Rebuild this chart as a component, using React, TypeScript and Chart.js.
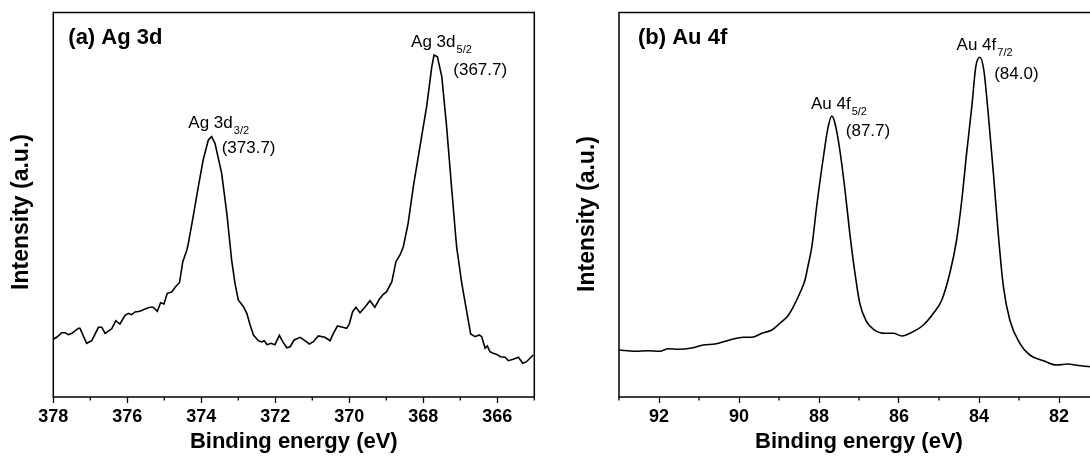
import React, { useEffect, useRef } from "react";
import { Chart, registerables } from "chart.js";

Chart.register(...registerables);

const FONT = '"Liberation Sans", Arial, Helvetica, sans-serif';

// ---- Data (binding energy in eV, intensity in arbitrary units) ----
const agSpectrum: [number, number][] = [
  [378.0, 57.7], [377.91, 59.7], [377.77, 64.3], [377.68, 64.3], [377.59, 62.3], [377.5, 63.7],
  [377.32, 68.7], [377.28, 68.7], [377.1, 53.7], [376.96, 56.3], [376.78, 69.7], [376.69, 69.7],
  [376.6, 63.7], [376.42, 68.3], [376.31, 76.3], [376.2, 73.0], [376.06, 81.7], [375.97, 83.7],
  [375.88, 82.3], [375.79, 85.0], [375.66, 85.7], [375.52, 88.0], [375.39, 89.7], [375.3, 89.7],
  [375.19, 85.7], [375.1, 94.3], [375.01, 93.0], [374.92, 103.7], [374.8, 105.0], [374.68, 111.0],
  [374.59, 114.3], [374.5, 135.3], [374.39, 147.0], [374.35, 153.7], [374.22, 180.3], [374.08, 210.3],
  [373.95, 237.0], [373.81, 257.0], [373.72, 260.3], [373.63, 253.7], [373.45, 223.7], [373.31, 183.7],
  [373.18, 137.0], [373.09, 113.7], [373.0, 97.0], [372.86, 90.3], [372.77, 83.7], [372.68, 72.0],
  [372.59, 62.0], [372.46, 56.3], [372.37, 55.0], [372.3, 56.3], [372.22, 52.3], [372.12, 53.7],
  [372.01, 52.3], [371.89, 61.7], [371.8, 55.3], [371.69, 49.3], [371.6, 50.3], [371.49, 57.0],
  [371.33, 59.7], [371.2, 56.3], [371.08, 53.0], [370.97, 55.3], [370.84, 61.0], [370.66, 59.7],
  [370.52, 56.3], [370.43, 63.7], [370.32, 71.0], [370.18, 69.7], [370.07, 68.7], [370.0, 73.0],
  [369.91, 85.3], [369.82, 89.7], [369.71, 84.3], [369.58, 89.7], [369.44, 96.3], [369.31, 89.7],
  [369.19, 97.7], [369.08, 102.7], [368.99, 105.3], [368.85, 115.3], [368.74, 135.3], [368.63, 142.0],
  [368.54, 150.3], [368.41, 173.7], [368.27, 210.3], [368.09, 250.3], [367.91, 290.3], [367.77, 330.3],
  [367.71, 342.0], [367.62, 340.3], [367.5, 320.3], [367.37, 270.3], [367.23, 207.0], [367.1, 150.3],
  [366.96, 113.7], [366.85, 90.3], [366.72, 63.0], [366.6, 60.3], [366.49, 62.0], [366.42, 60.3],
  [366.33, 48.7], [366.27, 51.0], [366.2, 45.3], [366.11, 43.7], [366.0, 42.3], [365.91, 40.3],
  [365.79, 39.7], [365.7, 36.3], [365.57, 37.7], [365.43, 39.7], [365.31, 33.7], [365.21, 35.3],
  [365.03, 42.0],
];

const auSpectrum: [number, number][] = [
  [93.0, 47.0], [92.6, 45.7], [92.27, 46.3], [91.98, 45.7], [91.77, 48.3], [91.52, 47.7],
  [91.18, 49.0], [90.89, 52.0], [90.6, 53.0], [90.23, 57.0], [89.89, 59.7], [89.68, 59.7],
  [89.43, 63.7], [89.18, 67.0], [88.98, 73.7], [88.78, 81.0], [88.64, 90.3], [88.48, 103.7],
  [88.35, 117.0], [88.27, 132.0], [88.18, 150.0], [88.06, 190.0], [87.89, 240.0], [87.77, 270.3],
  [87.68, 281.0], [87.6, 273.7], [87.48, 247.0], [87.35, 207.0], [87.23, 163.7], [87.1, 123.7],
  [86.98, 93.7], [86.81, 75.3], [86.64, 67.7], [86.35, 63.7], [86.14, 63.7], [85.93, 61.0],
  [85.73, 63.7], [85.39, 72.0], [85.14, 83.7], [84.93, 97.0], [84.73, 123.7], [84.56, 157.0],
  [84.43, 197.0], [84.31, 243.7], [84.18, 290.3], [84.08, 330.3], [83.98, 339.7], [83.88, 327.0],
  [83.77, 283.7], [83.64, 223.7], [83.52, 163.7], [83.39, 110.3], [83.23, 77.0], [82.98, 53.7],
  [82.73, 42.0], [82.39, 36.3], [82.06, 32.0], [81.77, 33.0], [81.56, 31.7], [81.23, 30.3],
  [81.0, 29.5],
];

const agRange = [365, 378];
const auRange = [81, 93];
const intensityRange = [0, 384.5];

const xTitle = "Binding energy (eV)";
const yTitle = "Intensity (a.u.)";
const agPanelTitle = "(a) Ag 3d";
const auPanelTitle = "(b) Au 4f";

type PeakLabel = { main: string; sub: string; value: string; mainAt: [number, number]; valueAt: [number, number] };

const agPeakLabels: PeakLabel[] = [
  { main: "Ag 3d", sub: "3/2", value: "(373.7)", mainAt: [374.35, 269.3], valueAt: [373.45, 243.7] },
  { main: "Ag 3d", sub: "5/2", value: "(367.7)", mainAt: [368.33, 350], valueAt: [367.19, 321.7] },
];
const auPeakLabels: PeakLabel[] = [
  { main: "Au 4f", sub: "5/2", value: "(87.7)", mainAt: [88.2, 288], valueAt: [87.33, 261] },
  { main: "Au 4f", sub: "7/2", value: "(84.0)", mainAt: [84.56, 347], valueAt: [83.62, 318] },
];

type PanelCfg = {
  points: [number, number][];
  range: number[];
  smooth: boolean;
  padRight: number;
  yAxisWidth: number;
  yTitleX: number;
  yTitleY: number;
  title: string;
  titleDx: number;
  titleDy: number;
  labels: PeakLabel[];
};

function annotatePlugin(cfg: PanelCfg) {
  return {
    id: "annotate",
    afterDraw(chart: any) {
      const { ctx, chartArea: a, scales } = chart;
      const xs = scales.x;
      const ys = scales.y;
      ctx.save();
      // frame
      ctx.strokeStyle = "#000";
      ctx.lineWidth = 1.5;
      ctx.strokeRect(a.left, a.top, a.right - a.left, a.bottom - a.top);
      // minor ticks
      ctx.lineWidth = 1.3;
      for (let v = Math.ceil(cfg.range[0]); v <= cfg.range[1]; v++) {
        if (v % 2 !== 0) {
          const px = xs.getPixelForValue(v);
          ctx.beginPath();
          ctx.moveTo(px, a.bottom);
          ctx.lineTo(px, a.bottom + 3.5);
          ctx.stroke();
        }
      }
      ctx.fillStyle = "#000";
      // y axis title
      ctx.save();
      ctx.translate(cfg.yTitleX, cfg.yTitleY);
      ctx.rotate(-Math.PI / 2);
      ctx.textAlign = "center";
      ctx.textBaseline = "middle";
      ctx.font = `bold 23px ${FONT}`;
      ctx.fillText(yTitle, 0, 0);
      ctx.restore();

      ctx.textAlign = "left";
      ctx.textBaseline = "alphabetic";
      ctx.font = `bold 22px ${FONT}`;
      ctx.fillText(cfg.title, a.left + cfg.titleDx, a.top + cfg.titleDy);
      for (const l of cfg.labels) {
        const mx = xs.getPixelForValue(l.mainAt[0]);
        const my = ys.getPixelForValue(l.mainAt[1]);
        ctx.font = `17px ${FONT}`;
        ctx.fillText(l.main, mx, my);
        const w = ctx.measureText(l.main).width;
        ctx.font = `11px ${FONT}`;
        ctx.fillText(l.sub, mx + w + 1, my + 6);
        ctx.font = `17px ${FONT}`;
        ctx.fillText(l.value, xs.getPixelForValue(l.valueAt[0]), ys.getPixelForValue(l.valueAt[1]));
      }
      ctx.restore();
    },
  };
}

function makeChart(canvas: HTMLCanvasElement, cfg: PanelCfg) {
  return new Chart(canvas, {
    type: "line",
    data: {
      datasets: [
        {
          data: cfg.points.map(([x, y]) => ({ x, y })),
          borderColor: "#000",
          borderWidth: 1.6,
          pointRadius: 0,
          fill: false,
          tension: 0,
          cubicInterpolationMode: cfg.smooth ? "monotone" : "default",
        } as any,
      ],
    },
    options: {
      responsive: false,
      animation: false,
      devicePixelRatio: 1,
      layout: { padding: { top: 12.5, right: cfg.padRight, left: 0, bottom: 0 } },
      plugins: { legend: { display: false }, tooltip: { enabled: false } },
      scales: {
        x: {
          type: "linear",
          reverse: true,
          min: cfg.range[0],
          max: cfg.range[1],
          afterFit: (s: any) => {
            s.height = 60;
          },
          afterBuildTicks: (s: any) => {
            const t = [];
            for (let v = cfg.range[0]; v <= cfg.range[1]; v++) t.push({ value: v });
            s.ticks = t;
          },
          ticks: {
            autoSkip: false,
            maxRotation: 0,
            padding: 3,
            color: "#000",
            font: { family: FONT, size: 18, weight: "bold" },
            callback: (v: any) => (Number(v) % 2 === 0 ? String(v) : ""),
          },
          grid: {
            drawOnChartArea: false,
            tickLength: 6,
            tickWidth: 1.3,
            tickColor: (c: any) => (c.tick && c.tick.value % 2 === 0 ? "#000" : "rgba(0,0,0,0)"),
          },
          border: { display: false },
          title: {
            display: true,
            text: xTitle,
            color: "#000",
            font: { family: FONT, size: 22, weight: "bold" },
            padding: { top: 0, bottom: 2 },
          },
        },
        y: {
          type: "linear",
          min: intensityRange[0],
          max: intensityRange[1],
          afterFit: (s: any) => {
            s.width = cfg.yAxisWidth;
          },
          ticks: { display: false },
          grid: { display: false },
          border: { display: false },
          title: { display: false },
        },
      },
    } as any,
    plugins: [annotatePlugin(cfg)],
  });
}

export default function App() {
  const leftRef = useRef<HTMLCanvasElement>(null);
  const rightRef = useRef<HTMLCanvasElement>(null);

  useEffect(() => {
    const c1 = makeChart(leftRef.current!, {
      points: agSpectrum,
      range: agRange,
      smooth: false,
      padRight: 10.7,
      yAxisWidth: 53.3,
      yTitleX: 22,
      yTitleY: 212,
      title: agPanelTitle,
      titleDx: 15,
      titleDy: 31,
      labels: agPeakLabels,
    });
    const c2 = makeChart(rightRef.current!, {
      points: auSpectrum,
      range: auRange,
      smooth: true,
      padRight: 11,
      yAxisWidth: 74,
      yTitleX: 43,
      yTitleY: 214,
      title: auPanelTitle,
      titleDx: 19,
      titleDy: 31,
      labels: auPeakLabels,
    });
    return () => {
      c1.destroy();
      c2.destroy();
    };
  }, []);

  return (
    <div
      style={{
        position: "absolute",
        left: 0,
        top: 0,
        width: 1090,
        height: 457,
        overflow: "hidden",
        background: "#fff",
      }}
    >
      <canvas
        ref={leftRef}
        width={545}
        height={457}
        style={{ position: "absolute", left: 0, top: 0, width: 545, height: 457 }}
      />
      <canvas
        ref={rightRef}
        width={565}
        height={457}
        style={{ position: "absolute", left: 545, top: 0, width: 565, height: 457 }}
      />
    </div>
  );
}
